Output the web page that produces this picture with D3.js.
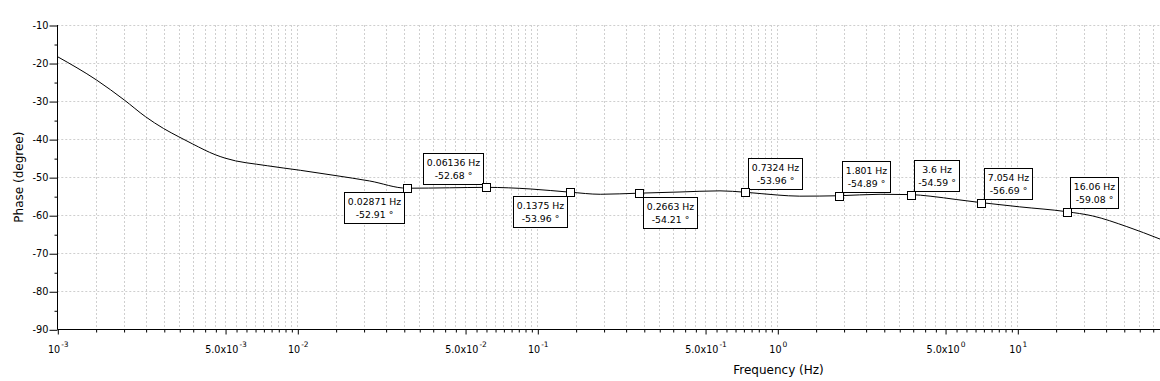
<!DOCTYPE html>
<html>
<head>
<meta charset="utf-8">
<script src="https://cdn.jsdelivr.net/npm/d3@7/dist/d3.min.js"></script>
<style>
  html, body { margin: 0; padding: 0; background: #fff; }
  svg { display: block; font-family: "DejaVu Sans", sans-serif; }
</style>
</head>
<body>
<svg id="chart" width="1160" height="381"></svg>
<script>
// ---------------- DATA ----------------
// Phase response curve (frequency in Hz, phase in degrees)
const curveFreq  = [0.001, 0.00146, 0.0019, 0.00233, 0.00277, 0.00321, 0.00367, 0.00455, 0.005, 0.0075, 0.0103, 0.0145, 0.02, 0.02871, 0.043, 0.06136, 0.0933, 0.1375, 0.183, 0.2663, 0.393, 0.577, 0.7324, 1.0, 1.24, 1.801, 2.68, 3.6, 4.33, 5.6, 7.054, 10.2, 16.06, 20.6, 28.6, 39.4];
const curvePhase = [-18.3, -24.5, -29.7, -34.1, -37.2, -39.4, -41.3, -44.1, -45.0, -47.0, -48.2, -49.6, -51.0, -52.91, -52.8, -52.68, -53.1, -53.96, -54.5, -54.21, -53.9, -53.6, -53.96, -54.7, -55.0, -54.89, -54.5, -54.59, -55.0, -55.9, -56.69, -57.8, -59.08, -60.2, -63.0, -66.3];

// Datatips
const tipFreq  = [0.02871, 0.06136, 0.1375, 0.2663, 0.7324, 1.801, 3.6, 7.054, 16.06];
const tipPhase = [-52.91, -52.68, -53.96, -54.21, -53.96, -54.89, -54.59, -56.69, -59.08];

// Axis ticks
const xMajorTicks = [1e-3, 5e-3, 1e-2, 5e-2, 1e-1, 5e-1, 1, 5, 10, 50];
const xTickMantissa = ["", "5.0x", "", "5.0x", "", "5.0x", "", "5.0x", "", "5.0x"];
const xTickExponent = ["-3", "-3", "-2", "-2", "-1", "-1", "0", "0", "1", "1"];
const yMajorTicks = [-90, -80, -70, -60, -50, -40, -30, -20, -10];

const xLabel = "Frequency (Hz)";
const yLabel = "Phase (degree)";

// ---------------- LAYOUT ----------------
const tipPlacement = ["bl", "tl", "bl", "br", "tr", "tr", "tr", "tr", "tr"];
const plotLeft = 57.3, plotTop = 25, plotBottom = 329.3, decadePx = 240, plotRight = 1160;

const svg = d3.select("#chart");

const x = d3.scaleLog()
  .domain([1e-3, 50])
  .range([plotLeft, plotLeft + decadePx * Math.log10(50 / 1e-3)]);
const y = d3.scaleLinear().domain([-90, -10]).range([plotBottom, plotTop]);

// minor x ticks: 8 linear subdivisions between consecutive majors
const xMinor = [];
for (let i = 0; i < xMajorTicks.length - 1; i++) {
  const a = xMajorTicks[i], b = xMajorTicks[i + 1];
  for (let k = 1; k < 9; k++) xMinor.push(a + (b - a) * k / 9);
}
const yMinor = d3.range(-85, -10, 10);

// ---------------- GRID ----------------
const grid = svg.append("g").attr("stroke", "#cfcfcf").attr("stroke-width", 1)
  .attr("stroke-dasharray", "2,2").attr("fill", "none");
xMajorTicks.concat(xMinor).forEach(v => {
  const px = Math.round(x(v)) + 0.5;
  if (px > plotLeft + 1 && px < plotRight) {
    grid.append("line").attr("x1", px).attr("x2", px).attr("y1", plotTop).attr("y2", plotBottom);
  }
});
yMajorTicks.filter(v => v > -90).forEach(v => {
  const py = Math.round(y(v)) + 0.5;
  grid.append("line").attr("x1", plotLeft).attr("x2", plotRight).attr("y1", py).attr("y2", py);
});

// ---------------- AXES ----------------
const xAxisY = Math.round(plotBottom) + 0.5;
const yAxisX = Math.round(plotLeft) + 0.5;

const xAxisMinor = svg.append("g").attr("transform", `translate(0.5,${xAxisY})`)
  .call(d3.axisBottom(x).tickValues(xMinor).tickSize(3).tickFormat(""));
const xAxis = svg.append("g").attr("transform", `translate(0.5,${xAxisY})`)
  .call(d3.axisBottom(x).tickValues(xMajorTicks).tickSize(5).tickFormat(""));
[xAxisMinor, xAxis].forEach(g => {
  g.select(".domain").remove();
  g.selectAll("line").attr("stroke", "#000");
});
svg.append("line").attr("x1", plotLeft).attr("x2", plotRight).attr("y1", xAxisY).attr("y2", xAxisY)
  .attr("stroke", "#000");

// x tick labels with superscript (only those inside the visible range)
const xl = svg.append("g").attr("font-size", 9.6).attr("fill", "#000");
xMajorTicks.forEach((v, i) => {
  if (x(v) > plotRight - 20) return;
  const t = xl.append("text").attr("x", x(v) + 1).attr("y", 352.5).attr("text-anchor", "middle");
  t.append("tspan").text(xTickMantissa[i] + "10");
  t.append("tspan").attr("font-size", 7.5).attr("dy", -6).attr("dx", 1).text(xTickExponent[i]);
});

const yAxisMinor = svg.append("g").attr("transform", `translate(${yAxisX},0.5)`)
  .call(d3.axisLeft(y).tickValues(yMinor).tickSize(3).tickFormat(""));
const yAxis = svg.append("g").attr("transform", `translate(${yAxisX},0.5)`)
  .call(d3.axisLeft(y).tickValues(yMajorTicks).tickSize(8).tickPadding(1).tickFormat(d3.format("d")));
[yAxisMinor, yAxis].forEach(g => {
  g.select(".domain").remove();
  g.selectAll("line").attr("stroke", "#000");
});
yAxis.selectAll("text").attr("font-size", 9.8).attr("font-family", "DejaVu Sans").attr("fill", "#000")
  .text(d => String(d));
svg.append("line").attr("x1", yAxisX).attr("x2", yAxisX).attr("y1", plotTop).attr("y2", xAxisY)
  .attr("stroke", "#000");

// axis titles
svg.append("text").attr("x", 778.5).attr("y", 373.5).attr("text-anchor", "middle")
  .attr("font-size", 12).text(xLabel);
svg.append("text").attr("transform", `translate(22.5,${(plotTop + plotBottom) / 2}) rotate(-90)`)
  .attr("text-anchor", "middle").attr("font-size", 12).text(yLabel);

// ---------------- CURVE ----------------
const pts = curveFreq.map((f, i) => [f, curvePhase[i]]);
svg.append("path").datum(pts)
  .attr("fill", "none").attr("stroke", "#000").attr("stroke-width", 1)
  .attr("d", d3.line().x(d => x(d[0])).y(d => y(d[1])).curve(d3.curveMonotoneX));

// ---------------- DATATIPS ----------------
const fmtF = d3.format(".4~g");
const fmtP = v => d3.format(".2f")(v).replace("\u2212", "-");
const tips = svg.append("g");
tipFreq.forEach((f, i) => {
  const px = x(f), py = y(tipPhase[i]);
  const g = tips.append("g");
  const rect = g.append("rect").attr("fill", "#fff").attr("stroke", "#000").attr("stroke-width", 1);
  const t1 = g.append("text").attr("font-size", 9.3).attr("text-anchor", "middle").text(fmtF(f) + " Hz");
  const t2 = g.append("text").attr("font-size", 9.3).attr("text-anchor", "middle").text(fmtP(tipPhase[i]) + " °");
  const w = Math.round(Math.max(t1.node().getComputedTextLength(), t2.node().getComputedTextLength()) + 7);
  const h = 31, off = 3.5;
  const pl = tipPlacement[i];
  const bx = pl[1] === "l" ? px - off - w : px + off;
  const by = pl[0] === "b" ? py + off : py - off - h;
  const rx = Math.round(bx) + 0.5, ry = Math.round(by) + 0.5;
  rect.attr("x", rx).attr("y", ry).attr("width", w).attr("height", h);
  t1.attr("x", rx + w / 2).attr("y", ry + 12.5);
  t2.attr("x", rx + w / 2).attr("y", ry + 25);
  g.append("rect").attr("x", Math.round(px - 4) + 0.5).attr("y", Math.round(py - 4) + 0.5)
    .attr("width", 8).attr("height", 8).attr("fill", "#fff").attr("stroke", "#000");
});
</script>
</body>
</html>
